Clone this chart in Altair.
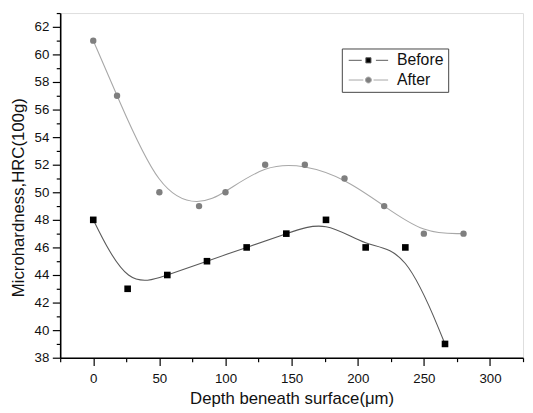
import altair as alt
import pandas as pd

before_x = [0, 26, 56, 86, 116, 146, 176, 206, 236, 266]
before_y = [48, 43, 44, 45, 46, 47, 48, 46, 46, 39]
after_x = [0, 18, 50, 80, 100, 130, 160, 190, 220, 250, 280]
after_y = [61, 57, 50, 49, 50, 52, 52, 51, 49, 47, 47]
series_names = ["Before", "After"]

x_major = [0, 50, 100, 150, 200, 250, 300]
x_minor = [-25, 25, 75, 125, 175, 225, 275, 325]
y_major = [38, 40, 42, 44, 46, 48, 50, 52, 54, 56, 58, 60, 62]
y_minor = [39, 41, 43, 45, 47, 49, 51, 53, 55, 57, 59, 61, 63]

before = pd.DataFrame({"x": before_x, "y": before_y, "series": "Before"})
after = pd.DataFrame({"x": after_x, "y": after_y, "series": "After"})
both = pd.concat([before, after], ignore_index=True)

FONT = "Liberation Sans"
xs = alt.Scale(domain=[-25, 325], nice=False, zero=False)
ys = alt.Scale(domain=[38, 63], nice=False, zero=False)

x_title = "Depth beneath surface(\u03bcm)"
y_title = "Microhardness,HRC(100g)"

# minor ticks layer
minor = alt.Chart(before).mark_point(opacity=0).encode(
    x=alt.X("x:Q", scale=xs, axis=alt.Axis(values=x_minor, labels=False, title=None, tickSize=4,
                                           domain=False, grid=False, orient="bottom", tickColor="#000",
                                           tickWidth=1.2)),
    y=alt.Y("y:Q", scale=ys, axis=alt.Axis(values=y_minor, labels=False, title=None, tickSize=4,
                                           domain=False, grid=False, orient="left", tickColor="#000",
                                           tickWidth=1.2)),
)

xaxis = alt.Axis(values=x_major, title=x_title, tickSize=8, labelPadding=6, titlePadding=6,
                 grid=False, orient="bottom", domainColor="#000", domainWidth=1.6, tickColor="#000",
                 tickWidth=1.2, labelFont=FONT, labelFontSize=13.5, labelColor="#111", labelOverlap=False,
                 titleFont=FONT, titleFontSize=17, titleFontWeight="normal", titleColor="#111")
yaxis = alt.Axis(values=y_major, title=y_title, tickSize=8, labelPadding=3.5, titlePadding=7,
                 grid=False, orient="left", domainColor="#000", domainWidth=1.6, tickColor="#000",
                 tickWidth=1.2, labelFont=FONT, labelFontSize=13.5, labelColor="#111", labelOverlap=False,
                 titleFont=FONT, titleFontSize=17, titleFontWeight="normal", titleColor="#111",
                 titleY=187)

major = alt.Chart(before).mark_point(opacity=0).encode(
    x=alt.X("x:Q", scale=xs, axis=xaxis), y=alt.Y("y:Q", scale=ys, axis=yaxis))

line_before = alt.Chart(before).mark_line(interpolate="basis", color="#5a5a5a", strokeWidth=1.1).encode(
    x=alt.X("x:Q", scale=xs, axis=None), y=alt.Y("y:Q", scale=ys, axis=None))
line_after = alt.Chart(after).mark_line(interpolate="basis", color="#a8a8a8", strokeWidth=1.1).encode(
    x=alt.X("x:Q", scale=xs, axis=None), y=alt.Y("y:Q", scale=ys, axis=None))
pts_before = alt.Chart(before).mark_point(shape="square", filled=True, color="#000", size=45, opacity=1).encode(
    x=alt.X("x:Q", scale=xs, axis=None), y=alt.Y("y:Q", scale=ys, axis=None))
pts_after = alt.Chart(after).mark_point(shape="circle", filled=True, color="#7f7f7f", size=42, opacity=1).encode(
    x=alt.X("x:Q", scale=xs, axis=None), y=alt.Y("y:Q", scale=ys, axis=None))

before_sym = "M-5,0H-1.7M1.9,0H5M-0.65,-0.65H0.65V0.65H-0.65Z"
after_sym = "M-5,0H-1.3M1.3,0H5M-0.75,0A0.75,0.75,0,1,0,0.75,0A0.75,0.75,0,1,0,-0.75,0Z"

leg = alt.Legend(orient="none", legendX=286, legendY=36, title=None, strokeColor="#444",
                 fillColor="#fff", padding=4, symbolOffset=15, labelOffset=21, symbolSize=64,
                 symbolStrokeWidth=1, symbolOpacity=1, labelFont=FONT, labelFontSize=16,
                 labelColor="#111", rowPadding=4)

legend_layer = alt.Chart(both).mark_point(opacity=0, filled=True).encode(
    x=alt.X("x:Q", scale=xs, axis=None), y=alt.Y("y:Q", scale=ys, axis=None),
    shape=alt.Shape("series:N", scale=alt.Scale(domain=series_names, range=[before_sym, after_sym]), legend=leg),
    fill=alt.Fill("series:N", scale=alt.Scale(domain=series_names, range=["#000", "#7f7f7f"]), legend=leg),
    stroke=alt.Stroke("series:N", scale=alt.Scale(domain=series_names, range=["#5a5a5a", "#a8a8a8"]), legend=leg),
)

chart = alt.layer(minor, major, line_before, line_after, pts_before, pts_after, legend_layer).resolve_axis(
    x="independent", y="independent").properties(
    width=470, height=350,
    autosize=alt.AutoSizeParams(type="none"),
    padding={"left": 53, "top": 2, "right": 2, "bottom": 53},
).configure_view(stroke="#808080", strokeWidth=1.6).configure(background="white")

chart.save("out.html", embed_options={"renderer": "svg", "actions": False})
